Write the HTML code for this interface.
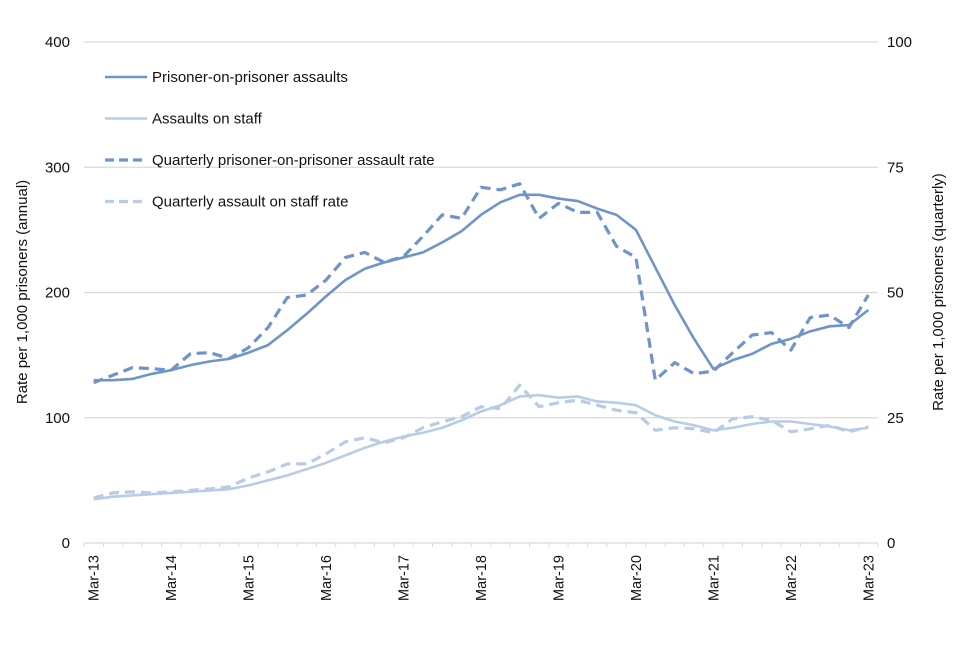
<!DOCTYPE html>
<html><head><meta charset="utf-8"><style>
body{margin:0;background:#fff;font-family:"Liberation Sans",Arial,sans-serif}
svg text{font-family:"Liberation Sans",Arial,sans-serif;fill:#111}
</style></head><body>
<svg id="chart" width="960" height="640">
<g id="grid"></g><g id="axes"></g><g id="series"></g>
<g id="legend"></g>
<text transform="translate(27,292) rotate(-90)" text-anchor="middle" font-size="15">Rate per 1,000 prisoners (annual)</text>
<text transform="translate(943,292) rotate(-90)" text-anchor="middle" font-size="15">Rate per 1,000 prisoners (quarterly)</text>
</svg>
<script>
const years = ["Mar-13","Mar-14","Mar-15","Mar-16","Mar-17","Mar-18","Mar-19","Mar-20","Mar-21","Mar-22","Mar-23"];
const leftTicks = [0,100,200,300,400];
const rightTicks = [0,25,50,75,100];
const popAnnual = [130,130,131,135,138,142,145,147,152,158,170,183,197,210,219,224,228,232,240,249,262,272,278,278,275,273,267,262,250,220,190,163,139,146,151,159,163,169,173,174,186];
const staffAnnual = [35,37,38,39,40,41,42,43,46,50,54,59,64,70,76,81,85,88,92,98,105,110,117,118,116,117,113,112,110,102,97,94,90,92,95,97,97,95,93,90,92];
const popQuarterly = [32,33.5,35,34.8,34.5,37.8,38,36.8,39,43,49,49.5,52.5,57,58,56,57.2,61.2,65.5,64.8,71,70.5,71.7,64.8,67.8,66,66,59.2,57,32.5,36,33.8,34.3,38,41.5,42,38.5,45,45.5,43,49.5];
const staffQuarterly = [9,10,10.2,10,10.2,10.5,10.8,11.2,13,14.2,15.8,15.8,17.8,20.2,21,20,21,23,24.2,25.2,27.2,26.8,31.5,27.2,28,28.5,27.5,26.5,26,22.5,23,22.8,22,24.8,25.2,24.5,22.2,22.8,23.5,22.2,23.2];
const NS="http://www.w3.org/2000/svg";
const X0=84,X1=878,Y0=543,Y400=42,N=41;
const xs=i=>X0+(X1-X0)/N*(i+0.5);
const yL=v=>Y0-(Y0-Y400)*v/400;
const yR=v=>Y0-(Y0-Y400)*v/100;
function mk(tag,attrs,parent){const e=document.createElementNS(NS,tag);for(const k in attrs)e.setAttribute(k,attrs[k]);parent.appendChild(e);return e;}
const grid=document.getElementById('grid'),axes=document.getElementById('axes'),ser=document.getElementById('series'),leg=document.getElementById('legend');
leftTicks.forEach(t=>{
 const l=mk('line',{x1:X0,x2:X1,y1:yL(t),y2:yL(t),stroke:'#d9d9d9','stroke-width':1.3},grid);
 
 
 const tx=mk('text',{x:70,y:yL(t)+5,'text-anchor':'end','font-size':15},axes);tx.textContent=t;
 
 
});
rightTicks.forEach(t=>{
 const tx=mk('text',{x:887,y:yR(t)+5,'font-size':15},axes);tx.textContent=t;
 
 
});
for(let i=0;i<=N;i++){mk('line',{x1:X0+(X1-X0)/N*i,x2:X0+(X1-X0)/N*i,y1:Y0,y2:Y0+4,stroke:'#d9d9d9'},axes);}
years.forEach((y,k)=>{
 const x=xs(k*4);
 const tx=mk('text',{transform:`translate(${x+5},${Y0+12}) rotate(-90)`,'text-anchor':'end','font-size':14.5},axes);tx.textContent=y;
 
 
});
const dark='#6f94c8',light='#b8cce6';
function line(vals,yf,color,dash,name){
 const p=mk('polyline',{points:vals.map((v,i)=>xs(i)+','+yf(v)).join(' '),fill:'none',stroke:color,'stroke-width':dash?3.2:2.6,'stroke-dasharray':dash?'10,6':'none','stroke-linejoin':'round'},ser);
 
 
}
line(staffAnnual,yL,light,false,'assaults-on-staff-line');
line(staffQuarterly,yR,light,true,'quarterly-staff-rate-line');
line(popAnnual,yL,dark,false,'prisoner-on-prisoner-line');
line(popQuarterly,yR,dark,true,'quarterly-pop-rate-line');
const items=[["Prisoner-on-prisoner assaults",dark,false],["Assaults on staff",light,false],["Quarterly prisoner-on-prisoner assault rate",dark,true],["Quarterly assault on staff rate",light,true]];
items.forEach((it,k)=>{
 const y=77+k*41.5;
 mk('line',{x1:105,x2:147,y1:y,y2:y,stroke:it[1],'stroke-width':it[2]?3.2:2.6,'stroke-dasharray':it[2]?'9,5':'none'},leg);
 const tx=mk('text',{x:152,y:y+5,'font-size':15},leg);tx.textContent=it[0];
 
 
});
</script>
</body></html>
